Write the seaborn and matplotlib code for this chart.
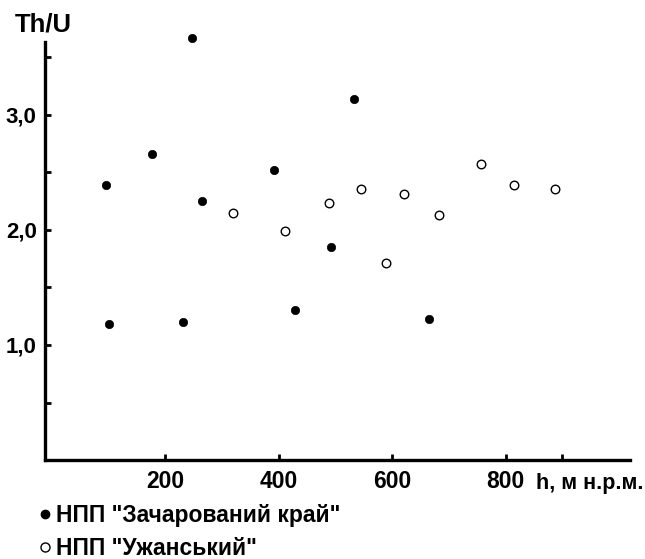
import matplotlib
matplotlib.use("Agg")
import matplotlib.pyplot as plt
from matplotlib.lines import Line2D
from matplotlib.ticker import FixedLocator, FuncFormatter
import seaborn as sns
import pandas as pd

# Data
zach_h = [96, 101, 177, 232, 248, 265, 391, 429, 492, 532, 664]
zach_thu = [2.39, 1.18, 2.66, 1.20, 3.67, 2.25, 2.52, 1.30, 1.85, 3.14, 1.23]
uzh_h = [320, 411, 489, 545, 590, 621, 682, 757, 815, 886]
uzh_thu = [2.15, 1.99, 2.23, 2.36, 1.71, 2.31, 2.13, 2.57, 2.39, 2.36]
group_names = ['НПП "Зачарований край"', 'НПП "Ужанський"']
x_major = [200, 400, 600, 800]
x_minor = [900]
y_major = [1.0, 2.0, 3.0]
y_minor = [0.5, 1.5, 2.5, 3.5]

df = pd.DataFrame({
    "h": zach_h + uzh_h,
    "thu": zach_thu + uzh_thu,
    "group": [group_names[0]] * len(zach_h) + [group_names[1]] * len(uzh_h),
})

sns.set_style("white")
plt.rcParams["font.family"] = ["Liberation Sans", "DejaVu Sans"]
plt.rcParams["font.weight"] = "bold"
plt.rcParams["text.color"] = "black"
plt.rcParams["xtick.color"] = "black"
plt.rcParams["ytick.color"] = "black"

fig = plt.figure(figsize=(6.45, 5.59), dpi=100)
ax = fig.add_axes([0.0698, 0.177, 0.907, 0.748])

sns.scatterplot(data=df[df.group == group_names[0]], x="h", y="thu", ax=ax,
                color="black", edgecolor="black", s=36, linewidth=0.5, legend=False,
                clip_on=False)
sns.scatterplot(data=df[df.group == group_names[1]], x="h", y="thu", ax=ax,
                color="white", edgecolor="black", s=38, linewidth=1.0, legend=False,
                clip_on=False)

ax.set_xlim(-11.5, 1019)
ax.set_ylim(0, 3.634)
for s in ["top", "right"]:
    ax.spines[s].set_visible(False)
for s in ["left", "bottom"]:
    ax.spines[s].set_linewidth(2.4)
    ax.spines[s].set_color("black")

ax.xaxis.set_major_locator(FixedLocator(x_major))
ax.xaxis.set_minor_locator(FixedLocator(x_minor))
ax.yaxis.set_major_locator(FixedLocator(y_major))
ax.yaxis.set_minor_locator(FixedLocator(y_minor))
ax.yaxis.set_major_formatter(FuncFormatter(lambda v, p: f"{v:.1f}".replace(".", ",")))
ax.tick_params(axis="both", which="both", direction="in", color="black", width=2, length=4,
               bottom=True, left=True, labelcolor="black")
ax.tick_params(axis="x", which="major", labelsize=16.5, pad=7)
ax.tick_params(axis="y", which="major", labelsize=16, pad=6)
for lab in ax.get_xticklabels() + ax.get_yticklabels():
    lab.set_fontweight("bold")
ax.set_xlabel("")
ax.set_ylabel("")

fig.text(15 / 645, 1 - 24 / 559, "Th/U", fontsize=18.5, fontweight="bold", va="center", ha="left")
fig.text(536 / 645, 1 - 484 / 559, "h, м н.р.м.", fontsize=15.5, fontweight="bold", va="center", ha="left")

handles = [
    Line2D([], [], linestyle="none", marker="o", markersize=6, markerfacecolor="black", markeredgecolor="black"),
    Line2D([], [], linestyle="none", marker="o", markersize=6.5, markerfacecolor="white", markeredgecolor="black", markeredgewidth=1),
]
fig.legend(handles, group_names, loc="upper left", bbox_to_anchor=(39 / 645, 1 - 504 / 559),
           frameon=False, handlelength=0.55, handletextpad=0.2, labelspacing=0.45,
           borderaxespad=0, borderpad=0, prop={"size": 16.5, "weight": "bold"})

fig.savefig("out.png", dpi=100)
